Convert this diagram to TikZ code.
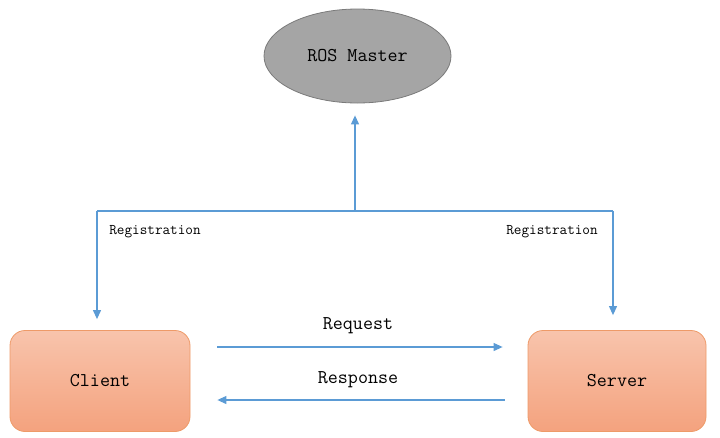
\documentclass[tikz,border=0pt]{standalone}
\usetikzlibrary{arrows.meta,shapes.geometric,calc}
\definecolor{arrowblue}{HTML}{5B9BD5}
\definecolor{mastergray}{HTML}{A5A5A5}
\definecolor{masteredge}{HTML}{7A7A7A}
\definecolor{boxtop}{HTML}{F8C4AC}
\definecolor{boxbottom}{HTML}{F4A27E}
\definecolor{boxedge}{HTML}{EE9A68}
\tikzset{
  master/.style={ellipse, draw=masteredge, fill=mastergray, line width=0.8pt,
    minimum width=187pt, minimum height=94pt, inner sep=0pt,
    font=\ttfamily\fontsize{19.5}{22}\selectfont},
  endpoint/.style={draw=boxedge, line width=0.8pt, rounded corners=15pt,
    top color=boxtop, bottom color=boxbottom,
    minimum width=180pt, minimum height=101pt, inner sep=0pt,
    font=\ttfamily\fontsize{19.5}{22}\selectfont},
  conn/.style={draw=arrowblue, line width=1.1pt},
  arr/.style={conn, -{Triangle[length=9pt,width=8pt]}},
  lbl/.style={inner sep=0pt, font=\ttfamily\fontsize{19.5}{22}\selectfont},
  reglbl/.style={inner sep=0pt, font=\ttfamily\fontsize{14.8}{16}\selectfont}
}
\begin{document}
\begin{tikzpicture}[x=1pt,y=-1pt]
\useasboundingbox (0,0) rectangle (720,437);
\node[master] (m) at (357.5,56) {ROS Master};
\node[endpoint] (c) at (100,381) {Client};
\node[endpoint, minimum width=178pt] (s) at (617,381) {Server};
\coordinate (j) at (355,211);
\coordinate (jl) at (97,211);
\coordinate (jr) at (613,211);
\draw[conn] (jl) -- (jr);
\draw[arr, shorten >=12pt] (j) -- (j |- m.south);
\draw[arr, shorten >=11pt] (jl) -- (jl |- c.north);
\draw[arr, shorten >=15pt] (jr) -- (jr |- s.north);
\draw[arr] ([shift={(27,-34)}]c.east) -- ([shift={(-25,-34)}]s.west);
\draw[arr] ([shift={(-23,19)}]s.west) -- ([shift={(27,19)}]c.east);
\node[lbl] (req) at (358,326) {Request};
\node[lbl] (resp) at (358,380) {Response};
\node[reglbl] (rl) at (155,232) {Registration};
\node[reglbl] (rr) at (552,232) {Registration};
\end{tikzpicture}
\end{document}
